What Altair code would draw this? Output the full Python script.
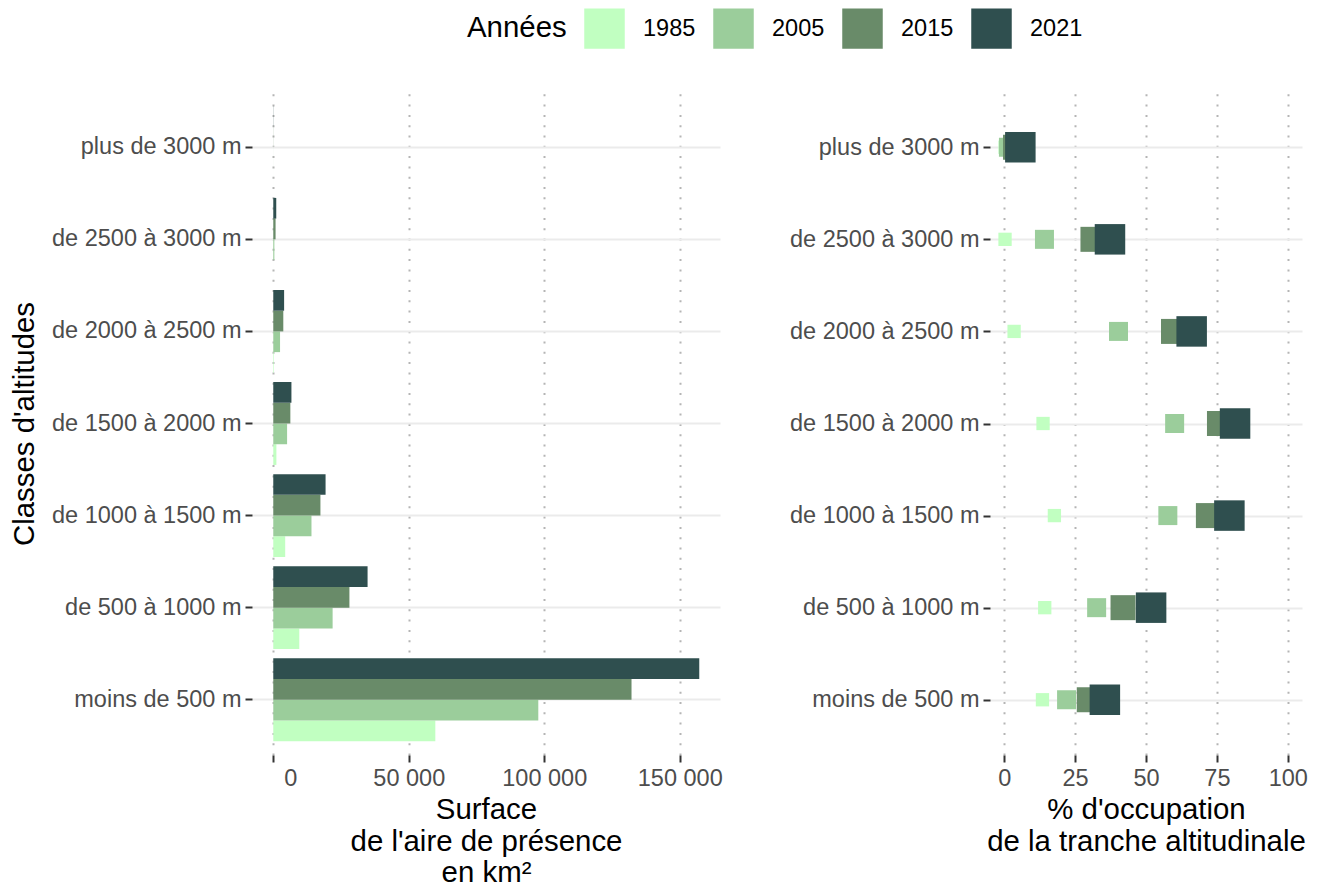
import altair as alt
import pandas as pd

years = ["1985", "2005", "2015", "2021"]
colors = ["#C1FFC1", "#9BCD9B", "#698B69", "#2F4F4F"]
classes = ["plus de 3000 m", "de 2500 à 3000 m", "de 2000 à 2500 m", "de 1500 à 2000 m",
           "de 1000 à 1500 m", "de 500 à 1000 m", "moins de 500 m"]

# Surface de l'aire de présence (km²), by class (top to bottom)
surface_1985 = [5, 10, 210, 1150, 4400, 9600, 59800]
surface_2005 = [15, 400, 2500, 5100, 14100, 21900, 97800]
surface_2015 = [40, 850, 3700, 6300, 17400, 28100, 132200]
surface_2021 = [57, 1100, 4000, 6700, 19300, 34800, 157200]

# % d'occupation de la tranche altitudinale
pct_1985 = [0.3, 0.3, 3.5, 13.7, 17.7, 14.3, 13.5]
pct_2005 = [1.5, 14.2, 40.3, 60.1, 57.7, 32.6, 22.0]
pct_2015 = [4.0, 31.3, 59.7, 75.9, 72.0, 41.9, 30.0]
pct_2021 = [5.7, 37.3, 66.1, 81.4, 79.4, 51.8, 35.5]

x_ticks_surface = [0, 50000, 100000, 150000]
x_ticks_pct = [0, 25, 50, 75, 100]

surfaces = [surface_1985, surface_2005, surface_2015, surface_2021]
pcts = [pct_1985, pct_2005, pct_2015, pct_2021]
rows = []
for yi, yr in enumerate(years):
    for ci, cl in enumerate(classes):
        rows.append({"Classe": cl, "Annee": yr, "AnneeTaille": yr,
                     "Surface": surfaces[yi][ci], "Pct": pcts[yi][ci]})
df = pd.DataFrame(rows)

FONT = "Liberation Sans"
color_scale = alt.Scale(domain=years, range=colors)

left = alt.Chart(df).mark_bar().encode(
    y=alt.Y("Classe:N", sort=classes,
            scale=alt.Scale(paddingInner=0.1, paddingOuter=0.15),
            axis=alt.Axis(title="Classes d'altitudes", grid=True, titlePadding=13)),
    yOffset=alt.YOffset("Annee:N", sort=years[::-1],
                        scale=alt.Scale(paddingInner=0, paddingOuter=0)),
    x=alt.X("Surface:Q",
            scale=alt.Scale(domain=[-7850, 164850], nice=False, zero=False),
            axis=alt.Axis(values=x_ticks_surface,
                          labelExpr="replace(format(datum.value, ','), ',', ' ')",
                          labelOffset={"condition": {"test": "datum.value === 0", "value": 17}, "value": 0},
                          title=["Surface", "de l'aire de présence", "en km²"])),
    color=alt.Color("Annee:N", scale=color_scale,
                    legend=alt.Legend(title="Années", symbolType="square", symbolSize=1640,
                                      symbolStrokeWidth=0, symbolOpacity=1)),
).properties(width=468, height=663)

right = alt.Chart(df).mark_square(opacity=1, filled=True).encode(
    y=alt.Y("Classe:N", sort=classes, scale=alt.Scale(padding=0.6),
            axis=alt.Axis(title=None, grid=True)),
    x=alt.X("Pct:Q", scale=alt.Scale(domain=[-5, 105], nice=False, zero=False),
            axis=alt.Axis(values=x_ticks_pct,
                          title=["% d'occupation", "de la tranche altitudinale"])),
    color=alt.Color("Annee:N", scale=color_scale, legend=None),
    size=alt.Size("AnneeTaille:N", scale=alt.Scale(type="ordinal", domain=years, range=[177, 361, 625, 930]),
                  legend=None),
    order=alt.Order("Annee:O", sort="ascending"),
).properties(width=312, height=663)

chart = alt.hconcat(left, right, spacing=270, bounds="flush").resolve_legend(
    color="independent", size="independent"
).properties(
    padding={"left": 1, "top": 0, "right": 0, "bottom": 0}
).configure_view(stroke=None).configure_axis(
    labelFont=FONT, labelFontSize=23.5, labelColor="#4D4D4D", labelLimit=400,
    titleFont=FONT, titleFontSize=29.4, titleColor="#000000", titleFontWeight="normal",
    domain=False, tickColor="#333333", tickSize=7, tickWidth=2, labelPadding=4,
).configure_axisX(
    gridColor="#B5B5B5", gridDash=[2, 8.3], gridWidth=2, titlePadding=6, titleLineHeight=31.5,
).configure_axisY(
    gridColor="#EBEBEB", gridWidth=2,
).configure_legend(
    orient="none", legendX=215, legendY=-84, direction="horizontal", titleOrient="left",
    labelFont=FONT, labelFontSize=23.5, labelColor="#000000", labelOffset=18,
    titleFont=FONT, titleFontSize=29.4, titleFontWeight="normal", titleColor="#000000",
    columnPadding=17, titlePadding=17, titleBaseline="middle",
)

chart.save("out.html", embed_options={"renderer": "svg", "actions": False})
